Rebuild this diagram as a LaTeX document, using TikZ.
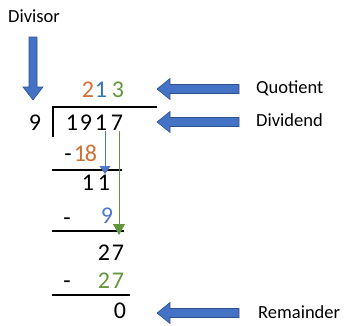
\documentclass[tikz,border=0pt]{standalone}
\usepackage{fontspec}
\setmainfont{Carlito}
\usetikzlibrary{arrows.meta}
\definecolor{qorange}{RGB}{207,112,52}
\definecolor{qblue}{RGB}{46,117,182}
\definecolor{lblue}{RGB}{80,120,200}
\definecolor{qgreen}{RGB}{98,150,60}
\definecolor{bigfill}{RGB}{68,114,196}
\definecolor{bigdraw}{RGB}{47,82,143}
\begin{document}
\begin{tikzpicture}[x=1pt,y=-1pt,
  dig/.style={anchor=base,inner sep=0pt,font=\fontsize{24}{27}\selectfont},
  lbl/.style={anchor=base west,inner sep=0pt,font=\fontsize{18.5}{22}\selectfont},
  rule/.style={line width=2pt,black},
  bigarrow/.style={fill=bigfill,draw=bigdraw,line width=0.6pt},
  thinarrow/.style={line width=0.9pt}]
\useasboundingbox (0,0) rectangle (345,325);
% labels
\node[lbl] (divisor) at (8,22) {Divisor};
\node[lbl] (quotient) at (256,93) {Quotient};
\node[lbl] (dividend) at (256,126.5) {Dividend};
\node[lbl] (remainder) at (258,318.3) {Remainder};
% big arrows
\draw[bigarrow] (29,37) -- (37,37) -- (37,87) -- (43,87) -- (33,100) -- (23,87) -- (29,87) -- cycle;
\draw[bigarrow] (157,89) -- (170,78.5) -- (170,84.5) -- (239,84.5) -- (239,93.5) -- (170,93.5) -- (170,99.5) -- cycle;
\draw[bigarrow] (157,122) -- (170,111.5) -- (170,117.5) -- (239,117.5) -- (239,126.5) -- (170,126.5) -- (170,132.5) -- cycle;
\draw[bigarrow] (157,313) -- (170,302.5) -- (170,308.5) -- (239,308.5) -- (239,317.5) -- (170,317.5) -- (170,323.5) -- cycle;
% quotient
\node[dig,text=qorange] (q1) at (88,97) {2};
\node[dig,text=qblue] (q2) at (101,97) {1};
\node[dig,text=qgreen] (q3) at (118,97) {3};
% bracket
\draw[rule] (157,107) -- (53,107) -- (53,137);
% divisor and dividend
\node[dig] (dv) at (35,130) {9};
\node[dig] (d1) at (72,130) {1};
\node[dig] (d2) at (86,130) {9};
\node[dig] (d3) at (101,130) {1};
\node[dig] (d4) at (117,130) {7};
% step 1
\node[dig] (m1) at (68,161) {-};
\node[dig,text=qorange] (s11) at (80,161) {1};
\node[dig,text=qorange] (s12) at (91,161) {8};
\coordinate (l1a) at (52,170);
\coordinate (l1b) at (122,170);
\draw[rule] (l1a) -- (l1b);
\node[dig] (r11) at (88,190) {1};
\node[dig] (r12) at (104,190) {1};
% step 2
\node[dig] (m2) at (67,225) {-};
\node[dig,text=lblue] (s21) at (107,223) {9};
\coordinate (l2a) at (52,231);
\coordinate (l2b) at (124,231);
\draw[rule] (l2a) -- (l2b);
\node[dig] (r21) at (104,260) {2};
\node[dig] (r22) at (118,260) {7};
% step 3
\node[dig] (m3) at (67,288) {-};
\node[dig,text=qgreen] (s31) at (104,288) {2};
\node[dig,text=qgreen] (s32) at (118,288) {7};
\coordinate (l3a) at (52,295);
\coordinate (l3b) at (130,295);
\draw[rule] (l3a) -- (l3b);
\node[dig] (rem) at (120,318) {0};
% thin arrows
\coordinate (bt) at (105,174);
\coordinate (gt) at (119,235);
\draw[thinarrow,lblue,-{Triangle[width=11pt,length=8pt]}] ([xshift=4pt,yshift=-1pt]d3.south) -- (bt);
\draw[thinarrow,qgreen,-{Triangle[width=12pt,length=11pt]}] ([xshift=2pt,yshift=-1pt]d4.south) -- (gt);
\end{tikzpicture}
\end{document}
